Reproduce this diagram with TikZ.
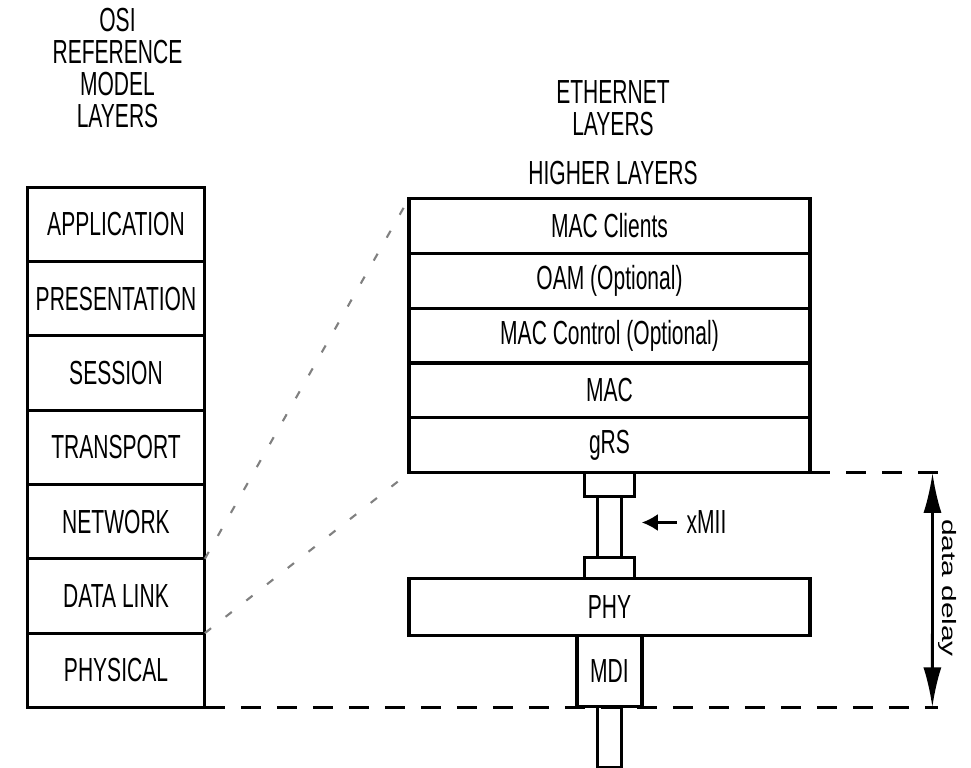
\documentclass[tikz,border=0pt]{standalone}
\usepackage{fontspec}
\setmainfont[FakeStretch=0.63]{Liberation Sans}
\newfontfamily\plainsf{Liberation Sans}
\usetikzlibrary{arrows.meta,positioning}
\tikzset{
  osi/.style={draw,line width=1.8pt,minimum width=3.554cm,minimum height=1.486cm,inner sep=0pt,outer sep=0pt},
  eth/.style={draw,line width=1.8pt,minimum width=8.02cm,minimum height=1.098cm,inner sep=0pt,outer sep=0pt},
  plug/.style={draw,line width=1.6pt,minimum width=1cm,inner sep=0pt,outer sep=0pt},
  bus/.style={draw,line width=1.2pt,minimum width=0.48cm,inner sep=0pt,outer sep=0pt},
  zoomline/.style={black!50,line width=1.2pt,dash pattern=on 4.5pt off 10.5pt},
  delayline/.style={line width=1.8pt,dash pattern=on 0.4cm off 0.32cm}
}
\newcommand{\lyrfont}{\fontsize{19}{18.2}\selectfont}

\begin{document}
\begin{tikzpicture}[font=\lyrfont]
\useasboundingbox (0,0) rectangle (19.42,-15.36);
% titles
\node[align=center] (osit) at (2.35,-1.36){OSI\\REFERENCE\\MODEL\\LAYERS};
\node[align=center] (etht) at (12.26,-2.16){ETHERNET\\LAYERS};
\node (high) at (12.26,-3.46){HIGHER LAYERS};
% OSI stack
\node[osi,anchor=north] (app) at (2.32,-3.746){APPLICATION};
\node[osi,below=0pt of app] (pres){PRESENTATION};
\node[osi,below=0pt of pres] (sess){SESSION};
\node[osi,below=0pt of sess] (trans){TRANSPORT};
\node[osi,below=0pt of trans] (net){NETWORK};
\node[osi,below=0pt of net] (dl){DATA LINK};
\node[osi,below=0pt of dl] (phys){PHYSICAL};
% Ethernet stack
\node[eth,anchor=north] (mcl) at (12.19,-3.966){MAC Clients};
\node[eth,below=0pt of mcl] (oam){OAM (Optional)};
\node[eth,below=0pt of oam] (mctl){MAC Control (Optional)};
\node[eth,below=0pt of mctl] (mac){MAC};
\node[eth,below=0pt of mac] (grs){gRS};
\node[plug,minimum height=0.48cm,below=0pt of grs] (up){};
\node[bus,minimum height=1.22cm,below=0pt of up] (xbus){};
\node[plug,minimum height=0.42cm,below=0pt of xbus] (lo){};
\node[eth,minimum height=1.14cm,below=0pt of lo] (phy){PHY};
\node[draw,line width=1.8pt,minimum width=1.3cm,minimum height=1.42cm,inner sep=0pt,outer sep=0pt,below=0pt of phy] (mdi){MDI};
\node[bus,minimum height=1.21cm,below=0pt of mdi] (mbus){};
% xMII
\node[inner sep=0.19cm] (xmii) at (14.13,-10.45){xMII};
\path (xmii.west) ++(-0.7,0) coordinate (xtip);
\draw[-{Latex[length=3.2mm,width=3.4mm]},line width=1.4pt] (xmii.west) -- (xtip);
% zoom lines
\draw[zoomline] (net.south east) -- (mcl.north west);
\draw[zoomline] (dl.south east) -- (grs.south west);
% data delay
\path (grs.south east) ++(2.45,0) coordinate (dt);
\path (phys.south east) ++(14.55,0) coordinate (db);
\draw[delayline] (grs.south east) -- ([xshift=0.11cm]dt);
\draw[delayline] (phys.south east) -- ([xshift=0.11cm]db);
\draw[{Latex[length=8mm,width=3.6mm]}-{Latex[length=8mm,width=3.6mm]},line width=1.6pt] (dt) -- (db);
\node[rotate=-90,font=\plainsf\fontsize{17}{17}\selectfont] (dd) at (18.96,-11.76){\scalebox{1}[0.65]{data delay}};
\end{tikzpicture}
\end{document}
